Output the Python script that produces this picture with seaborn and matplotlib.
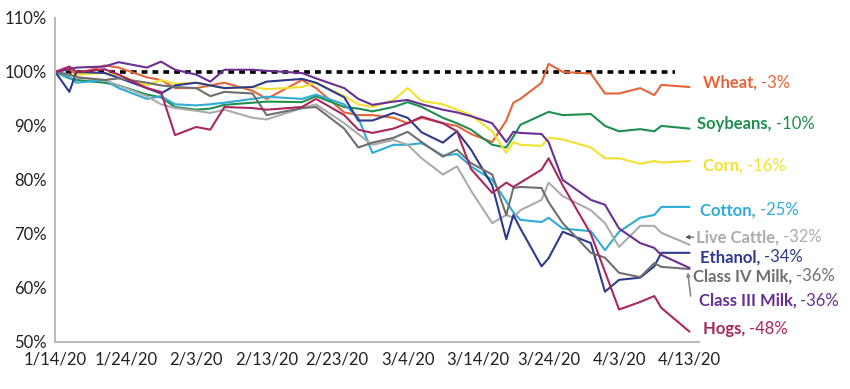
import matplotlib
matplotlib.use("Agg")
import matplotlib.pyplot as plt
import pandas as pd
import seaborn as sns

dates = ["2020-01-14", "2020-01-16", "2020-01-17", "2020-01-21", "2020-01-23", "2020-01-27",
         "2020-01-29", "2020-01-31", "2020-02-03", "2020-02-05", "2020-02-07", "2020-02-11",
         "2020-02-13", "2020-02-18", "2020-02-20", "2020-02-24", "2020-02-26", "2020-02-28",
         "2020-03-02", "2020-03-04", "2020-03-06", "2020-03-09", "2020-03-11", "2020-03-13",
         "2020-03-16", "2020-03-18", "2020-03-19", "2020-03-20", "2020-03-23", "2020-03-24",
         "2020-03-26", "2020-03-30", "2020-04-01", "2020-04-03", "2020-04-06", "2020-04-08",
         "2020-04-09", "2020-04-13"]

wheat = [100, 100.5, 99.5, 101.2, 100.8, 99, 98.5, 97, 97, 97.5, 98, 96.5, 95, 98.5, 97, 92.5,
         92, 92, 91.5, 90.5, 91.5, 90.5, 90, 88.5, 87, 91, 94.3, 95, 98, 101.5, 100, 99.7, 96,
         96, 97, 95.7, 97.6, 97.2]
soybeans = [100, 98.8, 98.5, 98, 97.5, 95.8, 95.3, 93.5, 93, 93.2, 93.9, 94.3, 94.5, 94.4, 95.5,
            93.5, 93.2, 92.7, 93.5, 94.4, 93.5, 91.5, 90.5, 89.3, 86.5, 86, 88, 90.2, 92, 92.6,
            92, 92.2, 90, 89, 89.4, 89, 90, 89.5]
corn = [100, 99.4, 99.5, 99.8, 99.4, 97.5, 98.5, 97.8, 98, 97.5, 97, 97.2, 96.8, 97.2, 98, 95.5,
        94, 93.5, 94.8, 97, 94.6, 94, 93, 92, 89, 85, 87, 86.5, 86.3, 87.8, 87.5, 86, 84, 84,
        83, 83.5, 83.2, 83.5]
cotton = [100, 99, 98, 98.5, 97, 95, 95.5, 94, 93.8, 94, 94.3, 95, 95.4, 95, 95.8, 94, 91.5, 85,
          86.5, 86.5, 86.8, 84.5, 84.8, 82.5, 80, 76, 74, 72.6, 72.2, 73, 71, 70.5, 67, 70.4,
          73, 73.5, 75, 75]
live_cattle = [100, 99.5, 99, 98.5, 97.5, 95.5, 94, 93.3, 92.8, 92.4, 93, 91.5, 91.2, 93.3, 94,
               90.5, 88.5, 86.5, 87.4, 86.5, 84, 81, 82.5, 78, 72, 73.5, 73, 74.4, 76.3, 79.5,
               77, 74.4, 72, 67.6, 71.5, 71.5, 70.2, 68]
ethanol = [100, 96.3, 100, 99.8, 98.9, 97, 96, 97.5, 98, 97.5, 97, 97.2, 98.2, 98.7, 98, 95.3,
           91, 91, 92.4, 91.5, 88.8, 86.9, 89, 85.6, 79, 69, 73.5, 71, 64, 65.5, 70.4, 68.3,
           59.3, 61.5, 61.9, 64, 66.5, 66.5]
class_iv = [100, 99.5, 99, 98.5, 98.8, 98, 97.5, 97.2, 97, 95.5, 96.3, 96, 92, 93.3, 93.5, 89.5,
            86, 86.9, 87.8, 88.9, 87, 84.3, 85.6, 83.1, 81, 73.5, 78.5, 78.7, 78.5, 75.9, 72,
            66.5, 65.6, 62.8, 62, 64.6, 63.9, 63.5]
class_iii = [100, 100.5, 100.8, 101, 101.8, 100.8, 101.9, 100.4, 99.5, 98.2, 100.4, 100.4,
             100.2, 99.8, 98.8, 97, 95, 93.9, 94.5, 94.8, 94, 93, 92.5, 91.8, 90.5, 87, 88.9,
             88.7, 88.5, 87, 80, 76.3, 75.4, 71, 68.3, 67.4, 66.1, 63.7]
hogs = [100, 101, 100, 100.5, 99.5, 97, 96.3, 88.3, 89.8, 89.3, 93.5, 93.3, 93, 93.5, 95, 92,
        89.3, 88.7, 89.5, 90.5, 91.7, 90.5, 89, 82, 77.6, 79.5, 78.7, 79.5, 81.9, 84, 79, 70,
        63, 56, 57.4, 58.5, 56.3, 51.9]

series_names = ["Wheat", "Soybeans", "Corn", "Cotton", "Live Cattle", "Ethanol",
                "Class IV Milk", "Class III Milk", "Hogs"]
series_values = [wheat, soybeans, corn, cotton, live_cattle, ethanol, class_iv, class_iii, hogs]
end_labels = ["-3%", "-10%", "-16%", "-25%", "-32%", "-34%", "-36%", "-36%", "-48%"]
label_levels = [98, 90.4, 82.6, 74.4, 69.4, 65.7, 62.2, 57.6, 52.4]
label_offsets = [1.9, 1.1, 1.9, 1.5, 0.9, 1.5, 0.5, 1.3, 1.9]

colors = {"Wheat": "#E5653A", "Soybeans": "#1E8F4E", "Corn": "#F2E12E", "Cotton": "#2EACD6",
          "Live Cattle": "#ABABAB", "Ethanol": "#2E3A8C", "Class IV Milk": "#6F6F6F",
          "Class III Milk": "#6A2F92", "Hogs": "#A8275F"}

tick_labels = ["1/14/20", "1/24/20", "2/3/20", "2/13/20", "2/23/20", "3/4/20", "3/14/20",
               "3/24/20", "4/3/20", "4/13/20"]

rows = []
for name, vals in zip(series_names, series_values):
    for d, v in zip(dates, vals):
        rows.append({"Date": pd.Timestamp(d), "Series": name, "Value": v})
df = pd.DataFrame(rows)

sns.set_style("white")
plt.rcParams["font.family"] = ["Lato", "DejaVu Sans"]

fig = plt.figure(figsize=(8.5, 3.89), dpi=100)
ax = fig.add_axes([0.065, 0.121, 0.757, 0.833])

# baseline
base = pd.DataFrame({"Date": pd.to_datetime(["2020-01-14", "2020-04-11"]), "Value": [100, 100]})
ax.plot(base["Date"], base["Value"], color="black", lw=2.6, linestyle=(0, (1.6, 1.4)), zorder=1)

sns.lineplot(data=df, x="Date", y="Value", hue="Series", palette=colors, hue_order=series_names,
             linewidth=1.5, legend=False, ax=ax, zorder=2)

start = pd.Timestamp("2020-01-14")
ax.set_xlim(start, start + pd.Timedelta(days=91.3))
ax.set_ylim(50, 110)
ticks = [start + pd.Timedelta(days=10 * i) for i in range(10)]
ax.set_xticks(ticks)
ax.set_xticklabels(tick_labels)
ax.set_yticks(range(50, 111, 10))
ax.set_yticklabels([f"{v}%" for v in range(50, 111, 10)])
ax.tick_params(axis="both", labelsize=12, colors="#222222")
ax.tick_params(axis="y", length=0, pad=6)
ax.tick_params(axis="x", length=4, color="#BBBBBB", direction="out", pad=3)
ax.set_xlabel("")
ax.set_ylabel("")
sns.despine(ax=ax)
ax.spines["left"].set_color("#BBBBBB")
ax.spines["bottom"].set_color("#BBBBBB")
ax.spines["left"].set_linewidth(1.5)
ax.spines["bottom"].set_linewidth(1.5)

end = pd.Timestamp("2020-04-13")
for name, lab, lvl, off in zip(series_names, end_labels, label_levels, label_offsets):
    c = colors[name]
    x = end + pd.Timedelta(days=off)
    t = ax.text(x, lvl, f"{name}, ", color=c, fontsize=12, fontweight="bold",
                va="center", ha="left", clip_on=False)
    fig.canvas.draw()
    bb = t.get_window_extent()
    ax.annotate(lab, xy=(bb.x1, (bb.y0 + bb.y1) / 2), xycoords="figure pixels",
                color=c, fontsize=12, va="center", ha="left", annotation_clip=False)

# pointer arrows
ax.annotate("", xy=(end - pd.Timedelta(days=1.0), 69.4), xytext=(end + pd.Timedelta(days=1.0), 69.4),
            arrowprops=dict(arrowstyle="-|>", color="#555555", lw=0.8, mutation_scale=6),
            annotation_clip=False)
ax.annotate("", xy=(end - pd.Timedelta(days=0.3), 63.4), xytext=(end + pd.Timedelta(days=0.2), 58.0),
            arrowprops=dict(arrowstyle="-|>", color="#888888", lw=1.2, mutation_scale=5),
            annotation_clip=False)

fig.savefig("out.png", dpi=100)
